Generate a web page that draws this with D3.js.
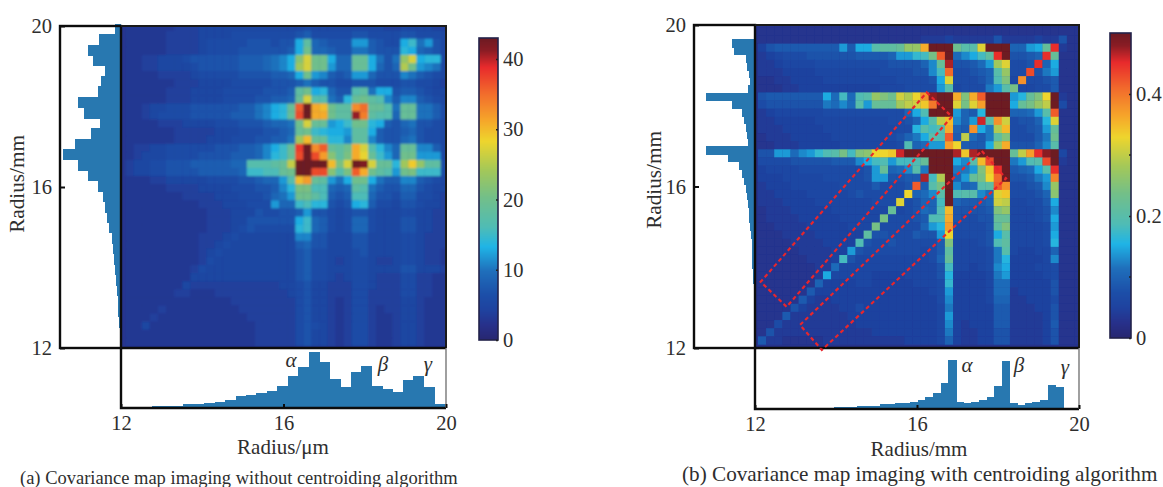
<!DOCTYPE html>
<html><head><meta charset="utf-8">
<style>html,body{margin:0;padding:0;background:#fff;overflow:hidden}svg{display:block}text{font-family:"Liberation Serif",serif;fill:#2e2e2e}</style>
<script src="https://cdn.jsdelivr.net/npm/d3@7/dist/d3.min.js"></script>
</head><body><div id="c"></div>
<script>
// Panel (a) covariance map, rows top to bottom, columns left to right
const covA=[
[3,3,3,3,3,3,4,4,4,5,5,5,5,5,5,5,5,5,5,5,5,5,6,5,5,5,5,5,5,5,5,5,4,4,5,5,5,5,4,4],
[3,3,3,3,3,4,4,4,4,5,5,5,5,6,6,6,6,6,6,6,6,7,8,6,6,6,6,6,7,7,6,6,6,6,7,7,6,6,6,5],
[3,3,3,3,3,4,4,4,4,5,6,6,6,6,6,7,7,7,6,7,7,13,18,9,8,7,7,7,12,12,8,7,6,6,13,15,10,12,7,5],
[3,3,3,3,3,4,4,4,4,5,6,6,6,6,7,7,7,7,7,7,8,13,20,9,9,8,7,7,10,10,8,7,7,7,14,13,9,8,7,5],
[3,3,4,4,5,5,5,6,7,7,7,7,7,7,8,8,8,9,10,11,13,22,27,20,20,13,9,9,19,19,13,10,7,10,23,27,13,14,14,5],
[3,3,4,4,5,5,5,5,6,7,7,7,7,7,8,8,8,9,10,11,13,24,27,20,20,12,9,9,19,19,13,9,7,9,25,20,12,11,10,5],
[3,3,3,3,4,4,4,4,5,6,6,6,6,6,7,7,7,7,8,8,9,13,20,12,11,8,7,8,12,12,9,7,7,7,11,10,8,7,6,5],
[3,3,3,3,3,3,4,4,4,5,5,5,5,6,6,6,6,6,7,7,7,8,10,8,7,7,6,6,7,7,7,6,6,6,7,7,6,6,5,4],
[3,3,3,3,3,4,4,4,5,5,5,5,6,6,6,6,6,7,7,7,8,18,20,13,14,9,7,7,17,18,10,13,13,7,8,8,7,6,5,5],
[3,3,3,3,3,4,4,4,5,5,5,5,6,6,6,6,7,7,8,8,9,19,27,17,17,10,8,14,19,20,18,17,11,8,11,11,8,7,6,5],
[3,3,4,5,5,6,6,6,7,7,7,7,7,7,8,8,10,11,13,14,19,36,43,31,30,20,18,18,33,35,19,19,17,10,19,19,10,10,8,6],
[3,3,4,5,6,6,6,6,7,7,7,7,7,8,8,8,10,11,13,14,19,37,43,31,31,20,18,18,41,34,18,17,17,9,19,19,10,10,8,6],
[3,3,3,3,4,4,4,5,5,5,5,6,6,6,7,7,7,8,9,9,10,20,27,19,19,12,13,15,20,20,14,13,8,7,9,10,7,7,6,5],
[3,3,3,3,3,3,4,4,4,4,4,5,5,5,6,6,6,7,7,8,9,19,20,15,14,13,13,12,18,18,13,8,7,7,8,9,7,6,6,5],
[3,3,3,3,3,3,4,4,4,4,5,5,5,6,6,6,7,7,8,8,10,24,30,19,19,14,14,11,18,18,11,8,7,7,9,10,7,6,6,5],
[3,4,4,5,5,6,6,6,6,6,6,7,7,7,8,8,9,11,13,15,19,38,43,33,36,19,18,20,31,27,17,14,11,9,19,19,11,11,8,5],
[3,4,5,5,5,6,6,6,6,7,7,7,7,8,8,8,9,11,14,15,19,37,43,37,32,22,18,21,31,28,19,15,12,9,20,20,12,12,12,5],
[4,5,5,6,6,7,7,7,8,8,8,8,8,9,9,17,17,17,18,19,26,43,43,43,43,30,21,27,43,42,27,19,19,14,24,29,23,18,18,6],
[4,5,5,6,6,7,7,7,7,8,8,8,8,8,9,15,15,16,16,19,20,43,43,37,37,22,17,21,36,31,20,18,17,12,20,21,15,15,15,6],
[3,3,3,4,4,5,5,5,5,5,6,6,6,6,7,7,8,9,9,12,17,30,32,19,18,12,10,13,20,20,13,10,8,8,11,11,8,7,6,5],
[3,3,3,3,3,4,4,4,4,5,5,5,5,6,6,6,7,7,8,11,14,21,21,16,16,9,8,9,18,17,10,8,7,7,9,9,7,6,5,5],
[3,3,3,3,3,3,3,4,4,4,4,5,5,5,6,6,6,7,9,10,12,20,20,18,16,8,7,8,16,16,9,7,7,6,8,8,6,6,5,4],
[3,3,3,3,3,3,3,3,3,4,4,4,5,5,5,6,6,6,12,9,9,15,16,14,14,7,6,7,13,14,8,6,6,5,7,7,6,5,5,4],
[3,3,3,3,3,3,3,3,3,3,4,4,4,5,5,5,7,6,6,7,7,8,12,7,7,6,5,6,7,7,6,5,5,5,6,6,5,5,4,4],
[3,3,3,3,3,3,3,3,3,3,4,4,4,5,5,7,7,7,7,7,7,13,15,9,8,6,5,6,9,9,6,5,5,5,7,7,5,5,4,4],
[3,3,3,3,3,3,3,3,3,3,4,4,4,5,6,7,6,6,6,6,6,14,15,9,8,6,5,6,9,9,6,5,5,5,7,7,5,5,4,4],
[3,3,3,3,3,3,3,3,3,4,4,4,5,6,5,5,5,5,5,5,5,11,11,7,7,5,5,5,7,7,5,5,5,5,6,6,5,4,4,4],
[3,3,3,3,3,3,3,3,3,4,4,5,6,5,5,5,5,5,5,5,5,8,9,7,7,5,5,5,7,7,5,5,5,5,6,6,5,4,4,4],
[3,3,3,3,3,3,3,3,3,4,5,6,5,5,5,5,5,5,5,5,5,7,8,6,6,5,5,5,6,7,5,5,5,5,6,6,5,4,4,3],
[3,3,3,3,3,3,3,3,3,4,6,5,5,5,5,5,5,5,5,5,5,7,8,6,6,5,4,5,6,6,5,4,4,5,6,6,5,4,4,3],
[3,3,3,3,3,3,3,3,4,6,5,5,5,5,5,5,5,5,5,5,5,7,8,6,6,5,5,5,6,6,5,5,5,5,7,7,5,5,5,4],
[3,3,3,3,3,3,3,3,5,5,5,5,5,5,5,5,5,5,5,5,5,7,8,6,6,5,4,5,6,6,5,4,4,4,6,6,4,4,3,3],
[3,3,3,3,3,3,3,5,4,4,4,4,4,4,4,4,4,4,4,5,5,6,7,5,5,4,4,4,6,6,5,4,4,4,6,6,4,4,3,3],
[3,3,3,3,3,3,4,4,3,3,3,4,4,4,4,4,4,4,4,4,5,6,7,5,5,4,4,4,6,6,4,4,4,4,6,6,4,4,3,3],
[3,3,3,3,3,3,3,3,3,3,3,3,3,4,4,4,4,4,4,4,4,6,7,5,5,4,3,4,6,6,4,4,4,4,5,5,4,3,3,3],
[3,3,3,3,4,3,3,3,3,3,3,3,3,3,4,4,4,4,4,4,4,6,7,5,5,4,3,4,6,6,4,3,4,4,5,5,4,3,3,3],
[3,3,3,4,3,3,3,3,3,3,3,3,3,3,3,4,4,4,4,4,4,6,7,5,5,4,3,4,6,6,4,3,3,4,5,5,4,3,3,3],
[3,3,5,3,3,3,3,3,3,3,3,3,3,3,3,3,4,4,4,4,4,6,7,6,5,4,3,4,6,6,4,3,3,4,5,5,4,3,3,3],
[3,3,3,3,3,3,3,3,3,3,3,3,3,3,3,3,4,4,4,4,4,6,7,5,5,4,3,4,6,6,4,3,3,4,5,5,4,3,3,3],
[3,3,3,3,3,3,3,3,3,3,3,3,3,3,3,3,4,4,4,4,4,6,7,5,5,4,3,4,6,6,4,3,3,4,5,5,4,3,3,3]
];
// Panel (b) covariance map, in units of 0.01, rows top to bottom
const covB=[
[3,3,3,3,3,3,3,3,3,3,3,3,3,3,3,3,3,3,3,3,3,3,3,3,3,3,3,3,3,3,3,3,3,3,3,3,3,3,3,3],
[3,3,3,3,3,3,3,3,3,3,3,3,3,3,3,3,3,3,3,3,3,3,3,3,3,3,3,3,3,3,3,3,3,3,3,3,3,3,3,3],
[3,3,3,3,3,3,3,3,3,3,3,3,3,3,3,3,3,3,3,3,4,4,4,5,4,4,4,4,4,8,4,4,4,4,5,4,4,8,3,3],
[5,8,9,9,9,9,9,9,9,9,14,9,15,15,20,21,21,22,27,27,36,50,50,50,23,20,20,32,50,50,50,10,10,14,15,22,45,4,3,3],
[4,5,6,7,7,7,8,8,8,8,8,8,9,9,9,9,10,14,14,17,18,24,42,50,11,13,15,18,21,45,50,8,8,9,10,45,22,3,3,3],
[4,4,5,6,6,6,6,7,7,7,7,7,7,7,7,7,8,8,8,8,10,13,22,47,8,8,9,11,14,28,32,7,7,8,45,10,15,3,3,3],
[4,4,4,5,5,5,5,6,6,6,6,6,6,6,6,7,7,7,7,8,8,13,18,41,7,7,8,9,10,20,27,7,7,43,8,12,14,3,3,3],
[3,3,4,4,5,5,5,5,6,6,6,6,6,6,6,6,6,7,7,7,7,8,15,32,7,7,7,8,10,19,25,6,38,7,7,8,9,3,3,3],
[3,3,3,4,4,5,5,5,5,5,5,5,5,5,5,6,6,6,7,7,7,7,14,20,6,7,7,7,12,14,20,24,6,6,7,7,9,3,3,3],
[8,9,9,9,9,9,9,9,15,11,18,11,19,20,27,25,23,31,29,33,38,48,50,50,36,25,36,42,50,50,50,14,16,22,25,33,50,4,3,3],
[7,8,8,8,8,8,8,8,12,11,13,11,20,14,22,22,22,28,30,31,34,40,50,50,32,24,32,37,50,50,50,15,22,24,27,30,50,7,3,3],
[4,5,6,6,6,6,6,6,7,7,7,7,7,7,7,7,7,7,10,15,19,50,50,50,14,10,9,16,50,50,50,10,10,11,14,20,42,3,3,3],
[4,4,5,5,5,5,5,6,6,6,6,6,6,6,6,6,7,7,8,10,15,20,30,35,13,10,14,46,20,38,31,7,8,8,10,16,32,3,3,3],
[4,4,4,5,5,5,5,5,6,6,6,6,6,6,6,6,6,7,7,16,20,18,20,36,10,9,38,15,12,29,35,7,7,8,9,14,22,3,3,3],
[3,4,4,4,5,5,5,5,5,6,6,6,6,6,6,6,7,8,10,12,15,20,19,42,9,30,11,9,12,21,25,7,7,7,9,12,23,3,3,3],
[3,3,4,4,4,5,5,5,5,5,6,6,6,6,6,6,6,7,19,10,11,14,14,37,33,9,9,9,15,27,36,8,8,8,10,13,20,3,3,3],
[8,8,14,14,11,13,14,17,19,20,24,18,25,26,33,33,34,46,50,50,50,50,50,50,47,34,47,50,50,50,50,22,30,37,45,48,50,6,3,3],
[7,7,7,7,8,8,8,8,8,9,9,9,13,15,18,19,14,18,18,19,22,50,50,50,15,13,20,35,43,50,50,12,14,19,20,43,50,4,3,3],
[5,6,6,6,6,7,7,7,7,7,7,7,7,8,14,22,10,11,13,20,12,50,50,50,12,12,14,25,34,45,50,9,10,11,15,20,45,3,3,3],
[5,5,5,6,6,6,6,6,7,7,7,7,7,8,14,14,8,8,9,9,47,18,29,50,10,14,22,24,33,41,50,8,8,9,12,14,39,3,3,3],
[4,5,5,5,6,6,6,6,6,6,7,7,7,7,9,7,7,7,8,42,9,20,24,50,13,10,11,20,21,42,38,7,7,8,9,13,27,3,3,3],
[4,4,5,5,5,5,6,6,6,6,6,7,8,7,7,7,7,7,33,10,11,13,20,50,19,20,20,13,11,32,34,7,7,7,8,10,26,3,3,3],
[4,4,4,5,5,5,5,6,6,6,6,6,6,6,7,7,7,32,7,8,10,10,18,50,10,9,9,9,10,31,30,6,6,7,7,9,15,3,3,3],
[3,4,4,4,5,5,5,5,5,6,6,6,6,6,6,6,22,6,7,8,11,10,19,35,8,8,8,8,9,25,27,6,6,6,7,8,13,3,3,3],
[3,4,4,4,4,5,5,5,5,5,6,6,6,6,6,24,7,7,7,8,9,19,19,36,8,7,7,8,8,22,22,6,6,6,7,8,15,3,3,3],
[3,3,4,4,4,4,5,5,5,5,5,6,6,6,24,7,7,7,7,7,10,14,16,37,7,7,7,7,8,21,25,6,6,6,6,7,14,3,3,3],
[3,3,3,4,4,4,4,5,5,5,5,5,5,21,8,8,7,7,7,9,8,8,14,33,7,7,7,7,8,15,20,6,6,6,6,7,15,3,3,3],
[3,3,3,3,4,4,4,4,5,5,5,5,19,8,7,7,8,7,7,7,7,7,9,25,6,6,6,7,8,19,21,6,6,6,6,7,16,3,3,3],
[3,3,3,3,3,4,4,4,4,5,5,14,8,7,7,7,7,7,7,7,6,7,9,21,6,6,6,6,7,12,20,6,5,5,6,6,10,3,3,3],
[3,3,3,3,3,3,4,4,4,5,18,8,6,6,6,6,6,6,6,6,6,7,10,22,6,6,6,6,7,12,16,5,5,5,5,6,13,3,3,3],
[3,3,3,3,3,3,3,4,4,11,6,6,6,6,6,6,6,6,6,6,6,6,8,18,6,6,5,6,7,13,15,5,5,5,6,6,7,3,3,3],
[3,3,3,3,3,3,3,4,15,6,6,6,6,6,5,5,5,5,6,6,6,6,8,16,5,5,5,5,6,12,14,5,5,5,5,6,7,3,3,3],
[3,3,3,3,3,3,3,10,5,5,5,5,6,6,5,5,5,5,5,6,6,6,7,17,5,5,5,5,6,11,11,5,5,5,5,5,8,3,3,3],
[3,3,3,3,3,3,9,5,5,5,5,5,5,5,5,5,5,5,5,5,5,6,7,14,5,5,5,5,6,11,11,4,5,5,5,5,8,3,3,3],
[3,3,3,3,3,9,5,4,4,5,5,5,5,5,5,5,5,5,5,5,5,5,7,13,5,5,5,5,6,10,10,4,4,5,5,5,7,3,3,3],
[3,3,3,3,8,5,4,4,4,4,5,5,7,5,5,5,5,5,5,5,5,5,6,12,5,5,5,5,5,9,9,4,4,4,5,5,8,3,3,3],
[3,3,3,9,4,4,4,4,4,4,4,5,5,5,5,5,5,5,5,5,5,5,6,14,5,5,5,5,5,9,9,4,4,4,4,5,8,3,3,3],
[3,3,7,4,4,4,4,4,4,4,4,4,5,5,5,5,5,5,5,5,5,5,6,13,5,4,5,5,5,9,9,4,4,4,4,5,9,3,3,3],
[3,8,4,4,4,4,4,4,4,4,4,4,4,4,5,5,5,5,5,5,5,5,6,12,5,4,4,5,5,8,8,4,4,4,4,5,8,3,3,3],
[9,4,4,3,3,3,3,3,4,4,4,4,4,4,4,4,4,4,5,5,5,5,6,10,5,4,4,5,5,8,8,4,4,4,4,5,8,3,3,3]
];
// Marginal histograms (arbitrary counts)
const histLeftA=[0.7,1.3,2,2.7,3.3,4,5,6,7.3,8.3,9.3,12.3,14,16,18.3,22.7,32.7,42.7,57.7,46,30,21,37.3,42.7,22.7,20,16,28.3,32.7,21.7,5.7];
const histBottomA=[0.7,1,1.3,1.7,2,2.5,3.7,4.5,5.2,6.5,7.7,11.7,12.7,15,17,21.7,32,41,55.7,45.7,29,21,36,41.7,21.7,19,15.7,27.7,31.7,21,4.3];
const histLeftB=[0.4,0.5,0.5,0.7,0.8,1,1.2,1.3,1.7,2,2.7,2.7,3,3.3,4,4.7,5.7,6,6.7,7.7,9.3,11,12.7,16,26.7,49.3,6.7,7.7,9.3,11,12.7,23.3,48.7,6.7,5.3,6,7.7,9.3,21.5,22.7];
const histBottomB=[0.5,0.7,0.7,0.8,1,1,1,1.2,1.3,1.3,1.7,2,2.3,2.7,3,3.3,4.7,5.3,6,6.3,7,9,11.7,15.7,26,49,6.7,6,7,9,12.3,23.3,48.3,5.7,3.7,5.7,7.3,9,23.7,21.7];
// Ticks and labels
const axisTicks=[12,16,20];
const colorTicksA=[0,10,20,30,40];
const colorTicksB=[0,0.2,0.4];
const colorMinorB=[0.1,0.3];
const captionA="(a) Covariance map imaging without centroiding algorithm";
const captionB="(b) Covariance map imaging with centroiding algorithm";
// Red dashed outlines in panel (b), in radius coordinates [x,y]
const boxOuter=[[16.24,18.33],[16.86,17.73],[12.78,13.02],[12.14,13.64]];
const boxInner=[[17.60,16.88],[18.20,16.20],[13.65,11.95],[13.11,12.57]];
// Colour ramp
const rampPos=[0,0.05,0.10,0.15,0.23,0.31,0.375,0.475,0.565,0.66,0.73,0.82,0.905,0.96,1];
const rampCol=["#27266f","#27308a","#1f429f","#1c4ea8","#1f6fbb","#1fb4e6","#4fbcb5","#73bf88","#a4c858","#eed52d","#f6a52a","#f26a2c","#e82a2c","#8a1c24","#6d1a22"];

const W=1163,H=487;
const svg=d3.select("#c").append("svg").attr("width",W).attr("height",H);
const defs=svg.append("defs");
[["softA",0.95],["softB",0.6]].forEach(f=>defs.append("filter").attr("id",f[0]).attr("x","-5%").attr("y","-5%").attr("width","110%").attr("height","110%")
  .append("feGaussianBlur").attr("stdDeviation",f[1]));
const ramp=d3.scaleLinear().domain(rampPos).range(rampCol).clamp(true);
const HIST="#2878b0", INK="#0c0c0c";
const FS="20.5px";

function panel(o){
  const g=svg.append("g");
  const x=d3.scaleLinear().domain([12,20]).range([o.L,o.R]);
  const y=d3.scaleLinear().domain([12,20]).range([o.B,o.T]);
  const cw=o.cell;
  const cx=d3.scaleBand().domain(d3.range(40)).range([o.L+o.ox*cw,o.L+(40+o.ox)*cw]);
  const cy=d3.scaleBand().domain(d3.range(40)).range([o.B-(40+o.oy)*cw,o.B-o.oy*cw]);
  const clip=o.id+"clip";
  defs.append("clipPath").attr("id",clip).append("rect").attr("x",o.L).attr("y",o.T).attr("width",o.R-o.L).attr("height",o.B-o.T);
  const hg=g.append("g").attr("clip-path",`url(#${clip})`).append("g").attr("filter",`url(#${o.soft})`);
  hg.append("rect").attr("x",o.L-6).attr("y",o.T-6).attr("width",o.R-o.L+12).attr("height",o.B-o.T+12).attr("fill",ramp(o.bg));
  o.data.forEach((row,i)=>{
    hg.selectAll(null).data(row).join("rect")
      .attr("x",(d,k)=>cx(k)).attr("y",cy(i)).attr("width",cx.bandwidth()+0.3).attr("height",cy.bandwidth()+0.3)
      .attr("fill",d=>ramp(d/o.max));
  });
  // marginal histograms
  const hw=d3.scaleLinear().domain([0,o.L-o.boxL]).range([o.L,o.boxL]);
  const hh=d3.scaleLinear().domain([0,o.boxB-o.B]).range([o.boxB,o.B]);
  const ly=d3.scaleBand().domain(d3.range(o.histLeft.length)).range([o.B-o.hOff,o.B-o.hOff-o.hStep*o.histLeft.length]);
  const bx=d3.scaleBand().domain(d3.range(o.histBottom.length)).range([o.L+o.hOff,o.L+o.hOff+o.hStep*o.histBottom.length]);
  g.append("g").attr("shape-rendering","crispEdges").selectAll("rect").data(o.histLeft).join("rect")
    .attr("x",d=>hw(d)).attr("y",(d,i)=>ly(i)-0.4).attr("width",d=>o.L-hw(d)).attr("height",ly.bandwidth()+0.8).attr("fill",HIST);
  g.append("g").attr("shape-rendering","crispEdges").selectAll("rect").data(o.histBottom).join("rect")
    .attr("x",(d,i)=>bx(i)-0.4).attr("y",d=>hh(d)).attr("width",bx.bandwidth()+0.8).attr("height",d=>o.boxB-hh(d)).attr("fill",HIST);
  // frames
  g.append("rect").attr("x",o.boxL).attr("y",o.T).attr("width",o.L-o.boxL).attr("height",o.B-o.T).attr("fill","none").attr("stroke",INK).attr("stroke-width",2.4);
  g.append("path").attr("d",`M${o.L},${o.T}H${o.R}V${o.B}`).attr("fill","none").attr("stroke","#1a1a1a").attr("stroke-width",2);
  g.append("path").attr("d",`M${o.L},${o.B}H${o.R}`).attr("stroke",INK).attr("stroke-width",2.4);
  g.append("path").attr("d",`M${o.L},${o.B}V${o.boxB}H${o.R}`).attr("fill","none").attr("stroke",INK).attr("stroke-width",2.4);
  g.append("path").attr("d",`M${o.R},${o.B}V${o.boxB}`).attr("stroke","#777").attr("stroke-width",1.4);
  // axes
  const ax=g.append("g").attr("transform",`translate(0,${o.boxB})`).call(d3.axisBottom(x).tickValues(axisTicks).tickSizeInner(-4).tickSizeOuter(0).tickPadding(7).tickFormat(d3.format("d")));
  const ay=g.append("g").attr("transform",`translate(${o.boxL},0)`).call(d3.axisLeft(y).tickValues(axisTicks).tickSizeInner(-5).tickSizeOuter(0).tickPadding(8).tickFormat(d3.format("d")));
  [ax,ay].forEach(a=>{a.select(".domain").remove();a.selectAll("line").attr("stroke",INK).attr("stroke-width",2);a.selectAll("text").style("font-size",FS).style("font-family",'"Liberation Serif",serif').attr("fill","#2e2e2e");});
  // titles
  g.append("text").attr("x",o.xLab).attr("y",o.xLabY).attr("text-anchor","middle").style("font-size","21px").text(o.xTitle);
  g.append("text").attr("transform",`translate(${o.yLab},${o.yLabY}) rotate(-90)`).attr("text-anchor","middle").style("font-size","21.2px").text("Radius/mm");
  g.append("text").attr("x",o.capX).attr("y",o.capY).style("font-size",o.capSize+"px").text(o.caption);
  o.greek.forEach(t=>g.append("text").attr("x",t[1]).attr("y",t[2]).attr("text-anchor","middle").style("font-size","21px").style("font-style","italic").text(t[0]));
  // colour bar
  const cb=d3.scaleLinear().domain([0,o.cMax]).range([o.cBot,o.cTop]);
  g.append("g").attr("shape-rendering","crispEdges").selectAll("rect").data(d3.range(o.cBot-o.cTop)).join("rect")
    .attr("x",o.cL).attr("y",d=>o.cTop+d).attr("width",o.cW).attr("height",1.2)
    .attr("fill",d=>ramp(1-d/(o.cBot-o.cTop)));
  g.append("rect").attr("x",o.cL).attr("y",o.cTop).attr("width",o.cW).attr("height",o.cBot-o.cTop).attr("fill","none").attr("stroke","#22224a").attr("stroke-width",1.6);
  const ca=g.append("g").attr("transform",`translate(${o.cL+o.cW},0)`).call(d3.axisRight(cb).tickValues(o.cTicks).tickSizeInner(-2).tickSizeOuter(0).tickPadding(5).tickFormat(o.cFmt));
  ca.select(".domain").remove();
  ca.selectAll("line").attr("stroke","#222").attr("stroke-width",1.4);
  ca.selectAll("text").style("font-size",FS).style("font-family",'"Liberation Serif",serif').attr("fill","#2e2e2e");
  if(o.cMinor){g.append("g").selectAll("line").data(o.cMinor).join("line").attr("x1",o.cL+o.cW-2).attr("x2",o.cL+o.cW).attr("y1",d=>cb(d)).attr("y2",d=>cb(d)).attr("stroke","#222").attr("stroke-width",1.4);}
  return {x,y,g};
}

panel({id:"a",soft:"softA",L:121,R:446,T:26,B:348,boxL:60,boxB:408,cell:8.08,ox:0.57,oy:0.27,data:covA,max:43,bg:0.06,
  histLeft:histLeftA,histBottom:histBottomA,hOff:0,hStep:10.45,
  xTitle:"Radius/\u03bcm",xLab:283,xLabY:454,yLab:24,yLabY:184,caption:captionA,capX:20,capY:484,capSize:18.5,
  greek:[["\u03b1",291,367],["\u03b2",383,371],["\u03b3",428,371]],
  cL:479,cW:19,cTop:38,cBot:340,cMax:43,cTicks:colorTicksA,cFmt:d3.format("d")});

const pb=panel({id:"b",soft:"softB",L:755,R:1079,T:25,B:348,boxL:694,boxB:409,cell:8.13,ox:0.36,oy:0.44,data:covB,max:50,bg:0.05,
  histLeft:histLeftB,histBottom:histBottomB,hOff:3,hStep:7.63,
  xTitle:"Radius/mm",xLab:919,xLabY:456,yLab:661,yLabY:180,caption:captionB,capX:682,capY:481,capSize:21.2,
  greek:[["\u03b1",967,372],["\u03b2",1019,372],["\u03b3",1065,374]],
  cL:1110,cW:21,cTop:33,cBot:338,cMax:0.5,cTicks:colorTicksB,cFmt:d=>d===0?"0":d3.format(".1f")(d),cMinor:colorMinorB});

const boxLine=d3.line().x(d=>pb.x(d[0])).y(d=>pb.y(d[1])).curve(d3.curveLinearClosed);
pb.g.selectAll("path.box").data([boxOuter,boxInner]).join("path").attr("class","box").attr("d",boxLine)
  .attr("fill","none").attr("stroke","#e8262c").attr("stroke-width",2.2).attr("stroke-dasharray","4 3");
</script></body></html>
